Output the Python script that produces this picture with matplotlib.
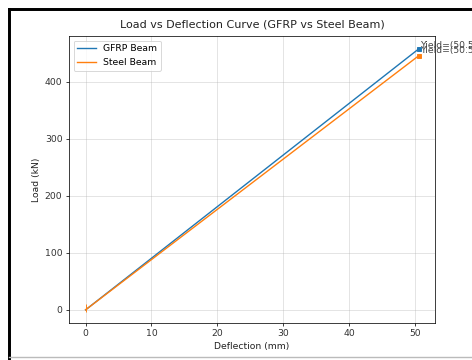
import matplotlib
matplotlib.use("Agg")
import matplotlib.pyplot as plt
from matplotlib.lines import Line2D

# values
deflection = [0, 50.5]
gfrp_load = [0, 457]
steel_load = [0, 445]
gfrp_yield = (50.5, 457)
steel_yield = (50.5, 445)

fig = plt.figure(figsize=(7.08, 5.4), dpi=200 / 3)
ax = fig.add_axes([0.146, 0.103, 0.776, 0.797])

ax.plot(deflection, gfrp_load, color="C0", label="GFRP Beam")
ax.plot(deflection, steel_load, color="C1", label="Steel Beam")
ax.plot(gfrp_yield[0], gfrp_yield[1], "s", color="C0", markersize=5)
ax.plot(steel_yield[0], steel_yield[1], "s", color="C1", markersize=5)
ax.plot(0, 4, "|", color="C1", markersize=8)

# the two labels overlap and run off the edge, as in the reference
ax.annotate("Yield=(%.1f, %d)" % gfrp_yield, gfrp_yield, xytext=(2, 4),
            textcoords="offset points", va="center", color="#444444",
            annotation_clip=False)
ax.annotate("Yield=(%.1f, %d)" % steel_yield, steel_yield, xytext=(2, 6),
            textcoords="offset points", va="center", color="#444444",
            annotation_clip=False)

ax.set_title("Load vs Deflection Curve (GFRP vs Steel Beam)", pad=9, color="#222222")
ax.set_xlabel("Deflection (mm)", color="#222222")
ax.set_ylabel("Load (kN)", color="#222222")
ax.tick_params(labelcolor="#333333")
ax.grid(True, alpha=0.45)
ax.legend(loc="upper left")

# screenshot frame
fig.add_artist(Line2D([9 / 472, 9 / 472], [0, 1 - 9 / 360], color="black", lw=3.2))
fig.add_artist(Line2D([9 / 472, 1], [1 - 9 / 360, 1 - 9 / 360], color="black", lw=3.2))
fig.add_artist(Line2D([9 / 472, 1], [3 / 360, 3 / 360], color="#bbbbbb", lw=1.5))

fig.savefig("out.png", dpi=200 / 3)
